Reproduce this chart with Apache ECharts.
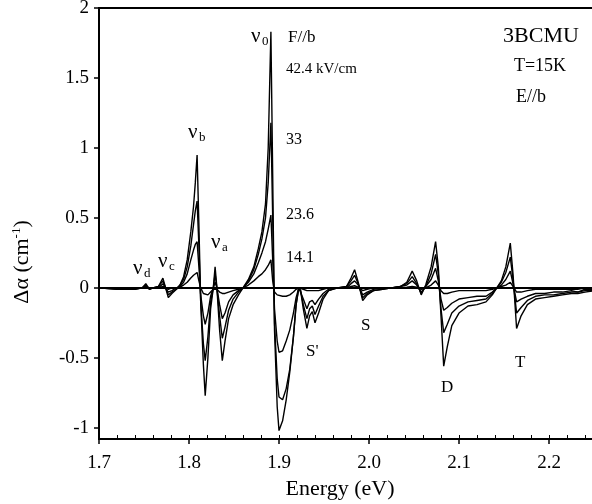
<!DOCTYPE html>
<html>
<head>
<meta charset="utf-8">
<script src="https://cdn.jsdelivr.net/npm/echarts@6/dist/echarts.min.js"></script>
<style>
  html, body { margin: 0; padding: 0; background: #fff; }
  #chart { width: 592px; height: 504px; }
</style>
</head>
<body>
<div id="chart"></div>
<script>
// photon energy (eV), shared by all four spectra
const energy = [
  1.700, 1.720, 1.740, 1.748, 1.752, 1.756, 1.760, 1.766, 1.771, 1.774,
  1.777, 1.781, 1.786, 1.790, 1.794, 1.798, 1.802, 1.805, 1.807, 1.809,
  1.811, 1.813, 1.816, 1.818, 1.821, 1.824, 1.827, 1.829, 1.831, 1.834,
  1.837, 1.840, 1.844, 1.849, 1.855, 1.860, 1.866, 1.872, 1.877, 1.881,
  1.885, 1.888, 1.891, 1.893, 1.895, 1.898, 1.900, 1.904, 1.908, 1.912,
  1.916, 1.919, 1.922, 1.924, 1.927, 1.931, 1.934, 1.937, 1.940, 1.944,
  1.949, 1.955, 1.965, 1.975, 1.980, 1.984, 1.988, 1.993, 1.998, 2.005,
  2.015, 2.025, 2.035, 2.042, 2.048, 2.053, 2.058, 2.063, 2.069, 2.074,
  2.077, 2.080, 2.083, 2.087, 2.092, 2.100, 2.110, 2.120, 2.130, 2.137,
  2.142, 2.147, 2.152, 2.157, 2.160, 2.164, 2.169, 2.176, 2.185, 2.195,
  2.205, 2.215, 2.225, 2.232, 2.240, 2.250
];

// delta alpha (cm^-1) at each field
const field424 = [
  0, -0.01, -0.01, 0, 0.03, -0.01, 0, 0.01, 0.07, 0,
  -0.07, -0.04, -0.01, 0.02, 0.08, 0.2, 0.4, 0.58, 0.75, 0.95,
  0.45, -0.1, -0.55, -0.77, -0.5, -0.15, 0, 0.15, 0, -0.3,
  -0.52, -0.38, -0.22, -0.12, -0.05, 0, 0.06, 0.15, 0.28, 0.4,
  0.6, 1.0, 1.83, 0.8, -0.3, -0.85, -1.02, -0.95, -0.8, -0.6,
  -0.35, -0.12, 0, -0.02, -0.15, -0.29, -0.2, -0.17, -0.25, -0.18,
  -0.08, -0.02, 0, 0.01, 0.07, 0.13, 0.04, -0.09, -0.05, -0.02,
  -0.01, 0, 0.01, 0.04, 0.12, 0.05, -0.05, 0.02, 0.15, 0.33,
  0.15, -0.2, -0.56, -0.42, -0.27, -0.18, -0.13, -0.12, -0.1, -0.05,
  0, 0.05, 0.15, 0.32, 0.1, -0.29, -0.2, -0.12, -0.08, -0.07,
  -0.06, -0.05, -0.04, -0.04, -0.03, -0.02
];
const field33 = [
  0, -0.01, -0.01, 0, 0.02, -0.01, 0, 0.01, 0.05, 0,
  -0.05, -0.03, -0.01, 0.02, 0.06, 0.15, 0.3, 0.45, 0.55, 0.62,
  0.3, -0.1, -0.4, -0.52, -0.35, -0.1, 0, 0.1, 0, -0.2,
  -0.36, -0.28, -0.16, -0.08, -0.03, 0, 0.05, 0.13, 0.24, 0.35,
  0.5, 0.75, 1.18, 0.5, -0.25, -0.65, -0.78, -0.8, -0.72, -0.58,
  -0.35, -0.12, 0, -0.02, -0.12, -0.22, -0.15, -0.13, -0.19, -0.13,
  -0.06, -0.02, 0, 0.01, 0.05, 0.09, 0.03, -0.07, -0.04, -0.02,
  -0.01, 0, 0.01, 0.03, 0.08, 0.03, -0.04, 0.01, 0.1, 0.24,
  0.1, -0.15, -0.32, -0.26, -0.18, -0.13, -0.1, -0.09, -0.08, -0.04,
  0, 0.04, 0.11, 0.22, 0.06, -0.18, -0.14, -0.09, -0.06, -0.05,
  -0.05, -0.04, -0.03, -0.03, -0.02, -0.02
];
const field236 = [
  0, 0, 0, 0, 0.01, 0, 0, 0, 0.03, 0,
  -0.03, -0.02, 0, 0.01, 0.04, 0.1, 0.2, 0.27, 0.31, 0.33,
  0.15, -0.05, -0.2, -0.26, -0.18, -0.06, 0, 0.04, 0, -0.12,
  -0.22, -0.18, -0.1, -0.05, -0.02, 0, 0.04, 0.1, 0.18, 0.25,
  0.33, 0.42, 0.52, 0.2, -0.15, -0.38, -0.46, -0.45, -0.38, -0.3,
  -0.18, -0.07, 0, -0.01, -0.08, -0.15, -0.1, -0.09, -0.12, -0.08,
  -0.04, -0.01, 0, 0, 0.03, 0.05, 0.02, -0.05, -0.03, -0.01,
  0, 0, 0.01, 0.02, 0.05, 0.02, -0.03, 0.01, 0.06, 0.14,
  0.05, -0.08, -0.16, -0.14, -0.11, -0.08, -0.07, -0.06, -0.06, -0.03,
  0, 0.02, 0.06, 0.12, 0.03, -0.1, -0.08, -0.06, -0.04, -0.04,
  -0.03, -0.03, -0.02, -0.03, -0.01, -0.01
];
const field141 = [
  0, 0, 0, 0, 0, 0, 0, 0, 0.01, 0,
  -0.01, 0, 0, 0.005, 0.02, 0.04, 0.07, 0.09, 0.1, 0.11,
  0.05, 0, -0.04, -0.05, -0.05, -0.03, -0.01, 0, -0.01, -0.03,
  -0.04, -0.04, -0.03, -0.02, -0.01, 0, 0.02, 0.05, 0.08, 0.1,
  0.13, 0.16, 0.2, 0.05, -0.03, -0.05, -0.05, -0.06, -0.06, -0.05,
  -0.03, -0.01, 0, 0, -0.01, -0.02, -0.02, -0.02, -0.02, -0.02,
  -0.01, 0, 0, 0, 0.01, 0.015, 0.005, -0.02, -0.01, 0,
  0, 0, 0, 0.005, 0.01, 0.005, -0.01, 0, 0.02, 0.05,
  0.02, -0.02, -0.04, -0.04, -0.03, -0.02, -0.02, -0.02, -0.02, -0.01,
  0, 0.01, 0.02, 0.04, 0.01, -0.03, -0.03, -0.02, -0.01, -0.01,
  -0.01, -0.01, -0.01, -0.01, 0, 0
];

const fieldNames = ['42.4 kV/cm', '33', '23.6', '14.1'];
const xTicks = [1.7, 1.8, 1.9, 2.0, 2.1, 2.2];
const yTicks = [-1, -0.5, 0, 0.5, 1, 1.5, 2];

const serif = '"Liberation Serif", "DejaVu Serif", serif';

function pairs(values) {
  return energy.map((e, i) => [e, values[i]]);
}

function txt(text, x, y, size, align) {
  return {
    type: 'text', x: x, y: y, silent: true,
    style: { text: text, fontFamily: serif, fontSize: size, fill: '#000',
      textAlign: align || 'left', textVerticalAlign: 'middle' }
  };
}

// greek nu with a subscript
function nu(sub, x, y) {
  return [txt('ν', x, y, 21), txt(sub, x + 11, y + 6, 13)];
}

let chart = echarts.init(document.getElementById('chart'));

let series = [field424, field33, field236, field141].map((vals, k) => ({
  name: fieldNames[k],
  type: 'line',
  data: pairs(vals),
  showSymbol: false,
  symbol: 'none',
  lineStyle: { color: '#000', width: 1.4 },
  z: 3
}));
series[0].markLine = {
  silent: true,
  symbol: 'none',
  label: { show: false },
  lineStyle: { color: '#000', width: 2, type: 'solid' },
  data: [{ yAxis: 0 }]
};

let option = {
  animation: false,
  grid: {
    left: 99, top: 8, right: -2, bottom: 65,
    show: true, borderColor: '#000', borderWidth: 2,
    containLabel: false, outerBoundsMode: 'none'
  },
  xAxis: [{
    type: 'value',
    min: 1.7, max: 2.25,
    axisLine: { show: true, onZero: false, lineStyle: { color: '#000', width: 2 } },
    axisTick: { show: true, customValues: xTicks, length: 5, lineStyle: { color: '#000', width: 1.5 } },
    axisLabel: {
      customValues: xTicks, color: '#000', fontFamily: serif, fontSize: 19, margin: 15,
      formatter: v => v.toFixed(1)
    },
    splitLine: { show: false }
  }, {
    // minor ticks every 0.02 eV, measured from the 1.7 eV origin
    type: 'value',
    position: 'bottom',
    min: 0, max: 0.55, interval: 0.02,
    axisLine: { show: false, onZero: false },
    axisTick: { show: true, inside: true, length: 4, lineStyle: { color: '#000', width: 1 } },
    axisLabel: { show: false },
    splitLine: { show: false }
  }],
  yAxis: {
    type: 'value',
    min: -1.08, max: 2,
    axisLine: { show: true, onZero: false, lineStyle: { color: '#000', width: 2 } },
    axisTick: { show: true, customValues: yTicks, length: 5, lineStyle: { color: '#000', width: 1.5 } },
    axisLabel: { customValues: yTicks, color: '#000', fontFamily: serif, fontSize: 19, margin: 10 },
    splitLine: { show: false }
  },
  series: series,
  graphic: [
    // axis titles
    txt('Energy (eV)', 340, 489, 22, 'center'),
    {
      type: 'text', x: 22, y: 262, rotation: Math.PI / 2, silent: true,
      style: {
        text: '{a|Δα (cm}{s|-1}{a|)}',
        textAlign: 'center', textVerticalAlign: 'middle',
        rich: {
          a: { fontFamily: serif, fontSize: 22, fill: '#000', verticalAlign: 'bottom' },
          s: { fontFamily: serif, fontSize: 13, fill: '#000', verticalAlign: 'top', padding: [0, 0, 10, 0] }
        }
      }
    },
    // field labels
    txt('F//b', 288, 38, 17),
    txt('42.4 kV/cm', 286, 69, 15),
    txt('33', 286, 140, 16),
    txt('23.6', 286, 215, 16),
    txt('14.1', 286, 258, 16),
    // sample info
    txt('3BCMU', 541, 36, 22, 'center'),
    txt('T=15K', 540, 66, 18, 'center'),
    txt('E//b', 531, 97, 18, 'center'),
    // band labels
    ...nu('0', 251, 36),
    ...nu('b', 188, 132),
    ...nu('a', 211, 242),
    ...nu('d', 133, 268),
    ...nu('c', 158, 261),
    txt("S'", 306, 352, 17),
    txt('S', 361, 326, 17),
    txt('D', 441, 388, 17),
    txt('T', 515, 363, 17)
  ]
};

chart.setOption(option);
</script>
</body>
</html>
